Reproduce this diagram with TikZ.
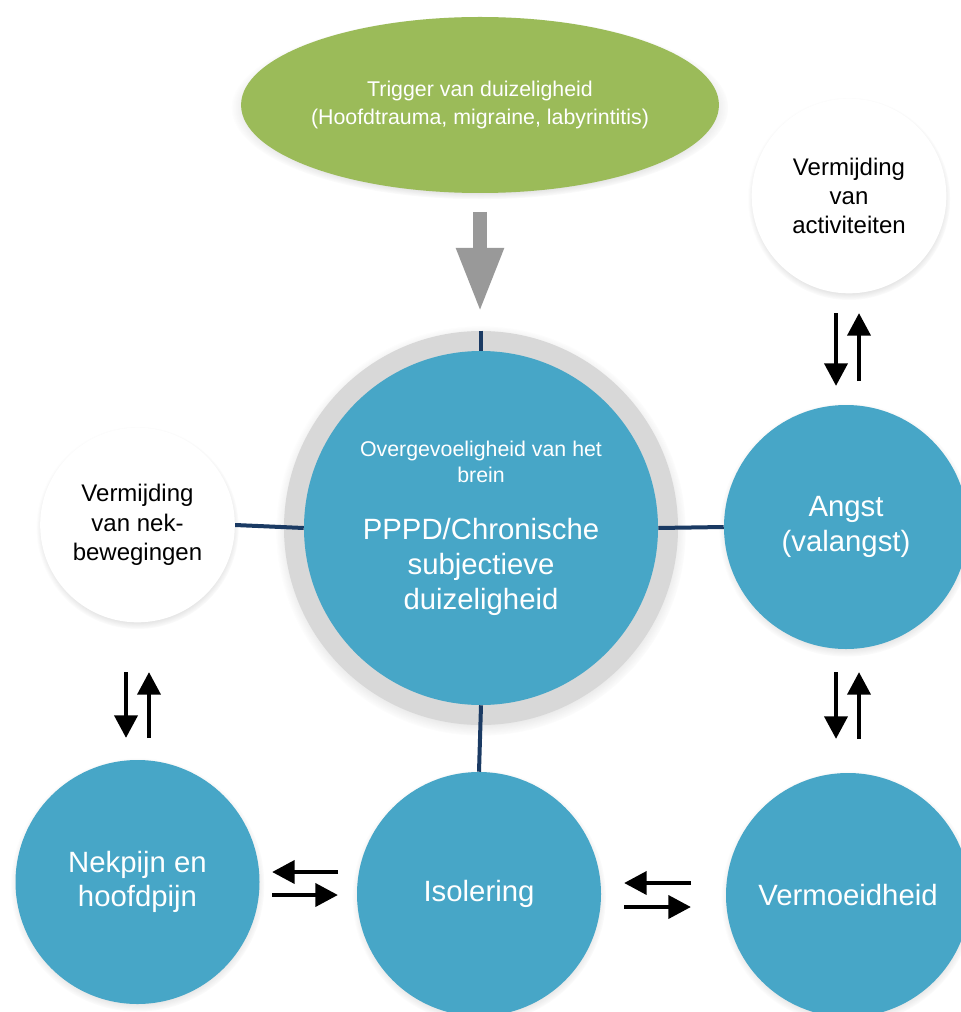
\documentclass[tikz,border=0pt]{standalone}
\usepackage{fontspec}
\setmainfont{Liberation Sans}
\usetikzlibrary{arrows.meta,shapes.geometric,shadows,fadings}
\definecolor{cblue}{RGB}{71,166,199}
\definecolor{cgreen}{RGB}{155,187,89}
\definecolor{cring}{RGB}{216,216,216}
\definecolor{cnavy}{RGB}{26,58,99}
\definecolor{cgrayarrow}{RGB}{153,153,153}
\begin{document}
\begin{tikzpicture}[x=0.75pt,y=-0.75pt,
  soft/.style={circular drop shadow={shadow scale=1.04, shadow xshift=0pt, shadow yshift=-2pt, opacity=0.35, fill=black!60}},
  bluecirc/.style={circle, fill=cblue, soft, text=white, align=center, font=\fontsize{22}{26}\selectfont, minimum size=183pt, inner sep=0pt},
  whitecirc/.style={circle, fill=white, soft, text=black, align=center, font=\fontsize{18}{22}\selectfont, minimum size=146pt, inner sep=0pt},
  link/.style={draw=cnavy, line width=3pt},
  pairarrow/.style={line width=3.6pt, -{Triangle[length=17pt,width=17pt]}},
  bigarrow/.style={draw=cgrayarrow, line width=10.5pt, -{Triangle[length=48pt,width=33pt]}},
  whitetext/.style={text=white, align=center}
]
\fill[white] (0,0) rectangle (960,1012);
\useasboundingbox (0,0) rectangle (960,1012);

% trigger ellipse
\node[ellipse, fill=cgreen, soft, minimum width=318pt, minimum height=132pt, inner sep=0pt,
      whitetext, font=\fontsize{16}{21}\selectfont] (trig) at (480,105)
  {Trigger van duizeligheid\\(Hoofdtrauma, migraine, labyrintitis)};

% big gray arrow
\coordinate (ga1) at (480,212);
\coordinate (ga2) at (480,312);
\draw[bigarrow] (ga1) -- (ga2);

% central circle
\node[circle, fill=cring, soft, minimum size=295.5pt, inner sep=0pt] (ring) at (481,528) {};
\node[circle, fill=cblue, minimum size=265.5pt, inner sep=0pt] (core) at (481,528) {};
\node[whitetext, font=\fontsize{16}{20}\selectfont] (corehead) at (481,462) {Overgevoeligheid van het\\brein};
\node[whitetext, font=\fontsize{22}{26}\selectfont] (coretitle) at (481,567) {PPPD/Chronische\\subjectieve\\duizeligheid};

% surrounding circles
\node[whitecirc] (act) at (849,196) {Vermijding\\van\\activiteiten};
\node[whitecirc] (nekav) at (137.5,525) {Vermijding\\van nek-\\bewegingen};
\node[bluecirc] (angst) at (846,527) {Angst\\(valangst)};
\node[bluecirc] (nek) at (137.5,882) {Nekpijn en\\hoofdpijn};
\node[bluecirc] (iso) at (479,894) {Isolering};
\node[bluecirc] (moe) at (848,895) {Vermoeidheid};

% connector lines
\draw[link] (ring.north) -- (core.north);
\draw[link] (nekav.east) -- (core.west);
\draw[link] (core.east) -- (angst.west);
\draw[link] (core.south) -- (iso.north);

% arrow pairs
\coordinate (a1s) at (836,313); \coordinate (a1e) at (836,386);
\coordinate (a2s) at (859,381); \coordinate (a2e) at (859,313);
\draw[pairarrow] (a1s) -- (a1e);
\draw[pairarrow] (a2s) -- (a2e);

\coordinate (b1s) at (836,672); \coordinate (b1e) at (836,739);
\coordinate (b2s) at (859,739); \coordinate (b2e) at (859,672);
\draw[pairarrow] (b1s) -- (b1e);
\draw[pairarrow] (b2s) -- (b2e);

\coordinate (c1s) at (126,672); \coordinate (c1e) at (126,738);
\coordinate (c2s) at (149,738); \coordinate (c2e) at (149,672);
\draw[pairarrow] (c1s) -- (c1e);
\draw[pairarrow] (c2s) -- (c2e);

\coordinate (d1s) at (338,872); \coordinate (d1e) at (272,872);
\coordinate (d2s) at (272,895); \coordinate (d2e) at (338,895);
\draw[pairarrow] (d1s) -- (d1e);
\draw[pairarrow] (d2s) -- (d2e);

\coordinate (e1s) at (691,883); \coordinate (e1e) at (624,883);
\coordinate (e2s) at (624,907); \coordinate (e2e) at (691,907);
\draw[pairarrow] (e1s) -- (e1e);
\draw[pairarrow] (e2s) -- (e2e);
\end{tikzpicture}
\end{document}
